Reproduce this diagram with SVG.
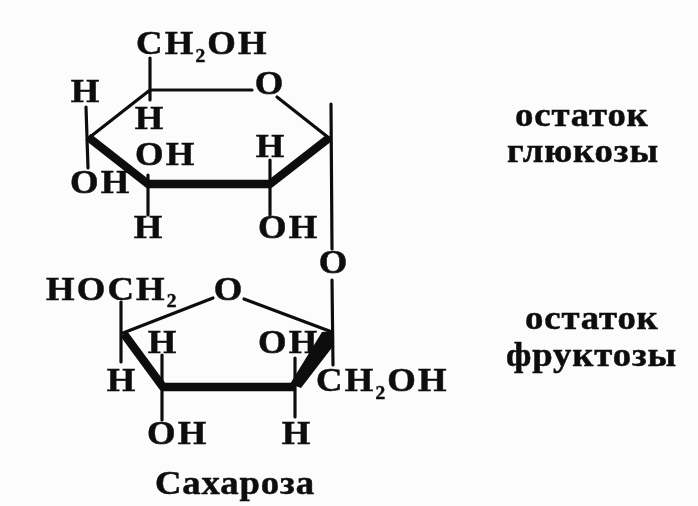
<svg xmlns="http://www.w3.org/2000/svg" width="698" height="506" viewBox="0 0 698 506">
<style>
text{font-family:"Liberation Serif","Times New Roman",serif;font-weight:bold;fill:#111;stroke:#111;stroke-width:.5}
.a{font-size:34px;letter-spacing:2px}
.l{font-size:34px;text-anchor:middle}
.s{font-size:18px}
.r{font-size:34px;letter-spacing:.8px}
.t{fill:none;stroke:#111;stroke-width:3.2;stroke-linecap:round}
.b{fill:none;stroke:#111;stroke-width:8.5;stroke-linejoin:round;stroke-linecap:butt}
</style>
<defs><filter id="f" x="-5%" y="-5%" width="110%" height="110%"><feGaussianBlur stdDeviation="0.6"/></filter></defs>
<rect width="698" height="506" fill="#fcfcfc"/>
<g filter="url(#f)">
<g id="connectors">
<path class="t" d="M150 58V100M150 90H252M150 90L90 137M86 107L88 168M277 97L329 138M331 104L332 249M148 175V215M270 160V184M270 184V215M332 280L333 365M123 333L213 298M244 299L332 332M121 302V362M162 355V387M162 387V420M295 358V387M295 387V417"/>
<path class="b" d="M88 137L148 184H270L329 138"/>
<path class="b" d="M124 334L163 387H295"/>
<path d="M322 332L334 331V345L301 388L290 384Z" fill="#111"/>
</g>
<g id="glucose-labels">
<text class="a" transform="translate(136 54) scale(1.08 1)">CH<tspan class="s" dy="8">2</tspan><tspan dy="-8">OH</tspan></text>
<text class="l" transform="translate(269 94) scale(1.08 1)">O</text>
<text class="l" transform="translate(85 102) scale(1.08 1)">H</text>
<text class="l" transform="translate(149 129) scale(1.08 1)">H</text>
<text class="a" transform="translate(135 165) scale(1.08 1)">OH</text>
<text class="l" transform="translate(270 157) scale(1.08 1)">H</text>
<text class="a" transform="translate(70 193) scale(1.08 1)">OH</text>
<text class="l" transform="translate(148 238) scale(1.08 1)">H</text>
<text class="a" transform="translate(258 238) scale(1.08 1)">OH</text>
</g>
<g id="link-oxygen"><text class="l" transform="translate(333 273) scale(1.08 1)">O</text></g>
<g id="fructose-labels">
<text class="a" transform="translate(46 300) scale(1.08 1)">HOCH<tspan class="s" dy="7">2</tspan></text>
<text class="l" transform="translate(228 300) scale(1.08 1)">O</text>
<text class="l" transform="translate(162 353) scale(1.08 1)">H</text>
<text class="a" transform="translate(258 353) scale(1.08 1)">OH</text>
<text class="l" transform="translate(121 391) scale(1.08 1)">H</text>
<text class="a" transform="translate(316 391) scale(1.08 1)">CH<tspan class="s" dy="8">2</tspan><tspan dy="-8">OH</tspan></text>
<text class="a" transform="translate(147 444) scale(1.08 1)">OH</text>
<text class="l" transform="translate(296 444) scale(1.08 1)">H</text>
</g>
<g id="captions">
<text class="r" transform="translate(515 126) scale(1.08 1)">остаток</text>
<text class="r" transform="translate(507 162) scale(1.08 1)">глюкозы</text>
<text class="r" transform="translate(525 329) scale(1.08 1)">остаток</text>
<text class="r" transform="translate(506 366) scale(1.08 1)">фруктозы</text>
<text class="r" transform="translate(155 494) scale(1.08 1)">Сахароза</text>
</g>
</g>
</svg>
